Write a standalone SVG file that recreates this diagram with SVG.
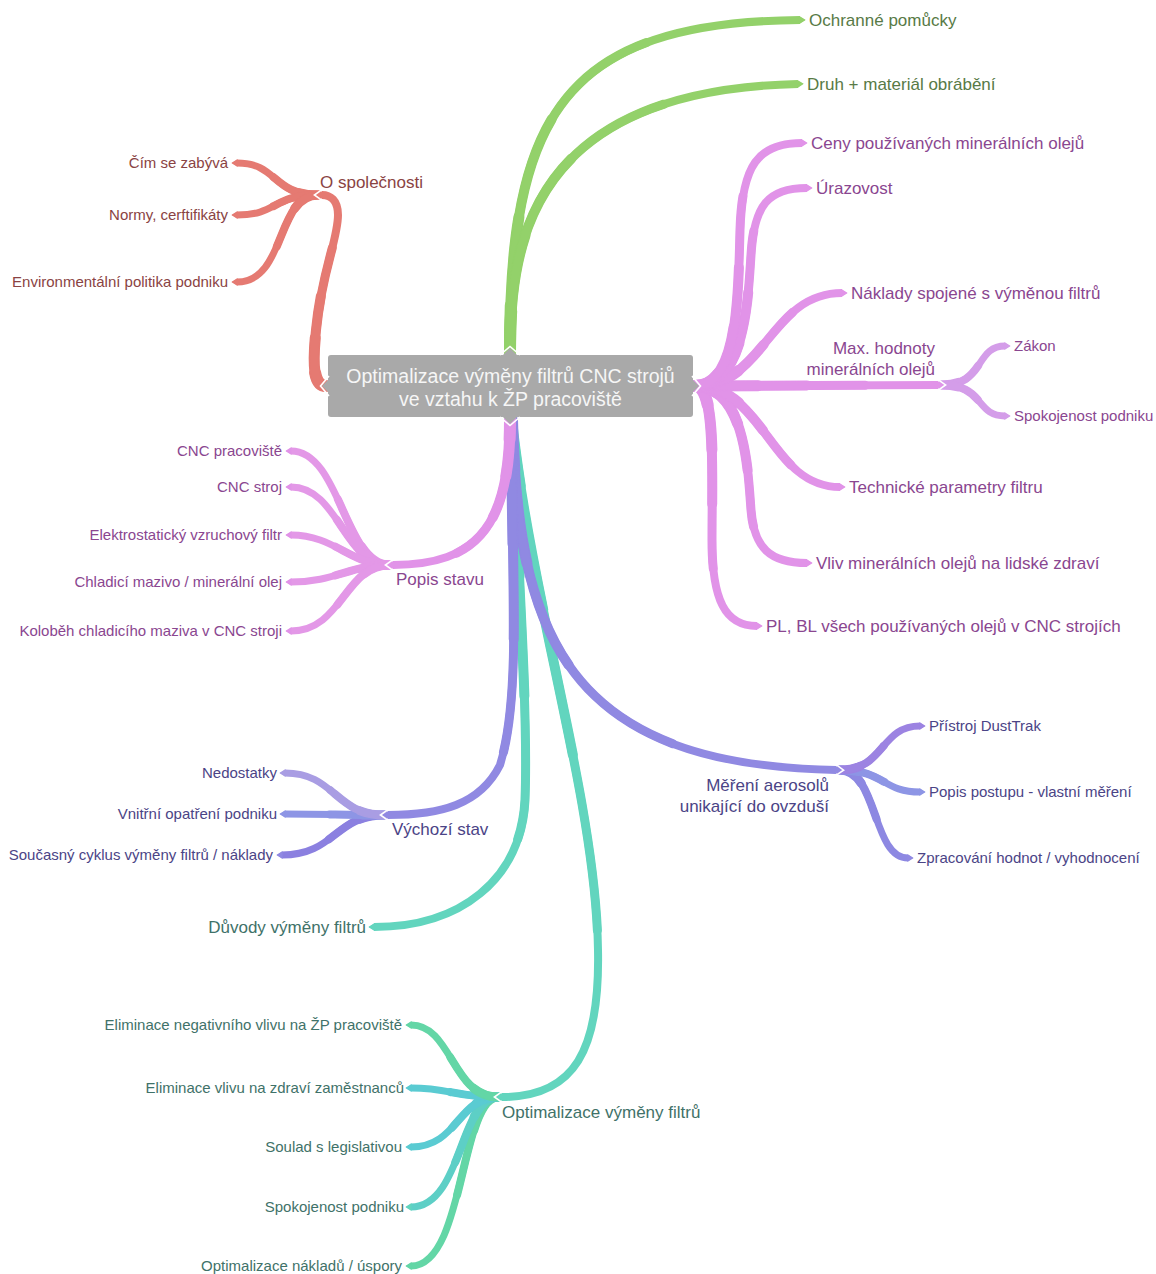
<svg xmlns="http://www.w3.org/2000/svg" xmlns:xlink="http://www.w3.org/1999/xlink" width="1156" height="1274" viewBox="0 0 1156 1274">
<style>
  text { font-family: "Liberation Sans", Arial, sans-serif; }
  .big { font-size: 17px; }
  .sm { font-size: 15px; }
  .ctr { font-size: 19.5px; fill: #f6f6f6; text-anchor: middle; }
  .end { text-anchor: end; }
  .c-red { fill: #8a4343; }
  .c-grn { fill: #587a46; }
  .c-pnk { fill: #8a4690; }
  .c-lav { fill: #4b4486; }
  .c-tea { fill: #3f7269; }
  /* tapered branches: a thin full-length stroke plus shorter, wider round-capped layers */
  .L1 { fill: none; stroke-width: 8; }
  .L2 { fill: none; stroke-width: 9; stroke-dasharray: 70 200; stroke-linecap: round; }
  .L3 { fill: none; stroke-width: 10; stroke-dasharray: 46 200; stroke-linecap: round; }
  .L4 { fill: none; stroke-width: 11; stroke-dasharray: 26 200; stroke-linecap: round; }
  .L5 { fill: none; stroke-width: 12; stroke-dasharray: 9 200; stroke-linecap: round; }
  .S1 { fill: none; stroke-width: 7; }
  .S2 { fill: none; stroke-width: 8; stroke-dasharray: 55 200; stroke-linecap: round; }
  .S3 { fill: none; stroke-width: 9; stroke-dasharray: 22 200; stroke-linecap: round; }
  .notch { fill: none; stroke: #ffffff; stroke-width: 1.6; }
</style>
<defs>
  <!-- arrow-like branch tips, one per branch colour -->
  <marker id="m-red" markerUnits="userSpaceOnUse" orient="auto" markerWidth="20" markerHeight="20" style="overflow:visible"><path d="M-0.5,-4 L6,0 L-0.5,4 Z" fill="#e57a72"/><path class="notch" d="M0,-5.4 L7.6,0 L0,5.4"/></marker>
  <marker id="m-grn" markerUnits="userSpaceOnUse" orient="auto" markerWidth="20" markerHeight="20" style="overflow:visible"><path d="M-0.5,-4 L6,0 L-0.5,4 Z" fill="#93d16a"/><path class="notch" d="M0,-5.4 L7.6,0 L0,5.4"/></marker>
  <marker id="m-pnk" markerUnits="userSpaceOnUse" orient="auto" markerWidth="20" markerHeight="20" style="overflow:visible"><path d="M-0.5,-4 L6,0 L-0.5,4 Z" fill="#e193e8"/><path class="notch" d="M0,-5.4 L7.6,0 L0,5.4"/></marker>
  <marker id="m-lil" markerUnits="userSpaceOnUse" orient="auto" markerWidth="20" markerHeight="20" style="overflow:visible"><path d="M-0.5,-4 L6,0 L-0.5,4 Z" fill="#d49de9"/><path class="notch" d="M0,-5.4 L7.6,0 L0,5.4"/></marker>
  <marker id="m-lav" markerUnits="userSpaceOnUse" orient="auto" markerWidth="20" markerHeight="20" style="overflow:visible"><path d="M-0.5,-4 L6,0 L-0.5,4 Z" fill="#9089e2"/><path class="notch" d="M0,-5.4 L7.6,0 L0,5.4"/></marker>
  <marker id="m-lav1" markerUnits="userSpaceOnUse" orient="auto" markerWidth="20" markerHeight="20" style="overflow:visible"><path d="M-0.5,-4 L6,0 L-0.5,4 Z" fill="#a99de3"/><path class="notch" d="M0,-5.4 L7.6,0 L0,5.4"/></marker>
  <marker id="m-lav2" markerUnits="userSpaceOnUse" orient="auto" markerWidth="20" markerHeight="20" style="overflow:visible"><path d="M-0.5,-4 L6,0 L-0.5,4 Z" fill="#8d95e5"/><path class="notch" d="M0,-5.4 L7.6,0 L0,5.4"/></marker>
  <marker id="m-lav3" markerUnits="userSpaceOnUse" orient="auto" markerWidth="20" markerHeight="20" style="overflow:visible"><path d="M-0.5,-4 L6,0 L-0.5,4 Z" fill="#9c83e2"/><path class="notch" d="M0,-5.4 L7.6,0 L0,5.4"/></marker>
  <marker id="m-tea" markerUnits="userSpaceOnUse" orient="auto" markerWidth="20" markerHeight="20" style="overflow:visible"><path d="M-0.5,-4 L6,0 L-0.5,4 Z" fill="#62d5be"/><path class="notch" d="M0,-5.4 L7.6,0 L0,5.4"/></marker>
  <marker id="m-mint" markerUnits="userSpaceOnUse" orient="auto" markerWidth="20" markerHeight="20" style="overflow:visible"><path d="M-0.5,-4 L6,0 L-0.5,4 Z" fill="#63d6a6"/><path class="notch" d="M0,-5.4 L7.6,0 L0,5.4"/></marker>
  <marker id="m-cyan" markerUnits="userSpaceOnUse" orient="auto" markerWidth="20" markerHeight="20" style="overflow:visible"><path d="M-0.5,-4 L6,0 L-0.5,4 Z" fill="#5acbd2"/><path class="notch" d="M0,-5.4 L7.6,0 L0,5.4"/></marker>

  <!-- branch geometry (pathLength normalised for the taper dashes) -->
  <path id="g1" pathLength="100" d="M510,352 C510,120 560,22 800,20"/>
  <path id="g2" pathLength="100" d="M510,352 C510,250 525,90 798,84"/>
  <path id="r0" pathLength="100" d="M326,386 C312,386 313,360 316,330 C322,270 338,240 338,215 C338,200 330,195 322,195"/>
  <path id="r1" pathLength="100" d="M318,195 C272,195 278,163 237,163"/>
  <path id="r2" pathLength="100" d="M318,195 C272,195 278,215 237,215"/>
  <path id="r3" pathLength="100" d="M318,195 C276,195 286,282 237,282"/>
  <path id="p1" pathLength="100" d="M695,386 C738,386 738,300 740,230 C742,165 758,143 802,143"/>
  <path id="p2" pathLength="100" d="M695,386 C745,386 748,300 751,255 C754,205 768,188 807,188"/>
  <path id="p3" pathLength="100" d="M695,386 C765,386 770,293 842,293"/>
  <path id="p4" pathLength="100" d="M695,386 L938,385"/>
  <path id="p5" pathLength="100" d="M695,386 C765,386 770,487 840,487"/>
  <path id="p6" pathLength="100" d="M695,386 C745,386 748,470 751,510 C754,548 770,563 807,563"/>
  <path id="p7" pathLength="100" d="M695,386 C716,386 712,470 712,540 C712,600 725,626 757,626"/>
  <path id="m1" pathLength="100" d="M942,385 C985,385 975,346 1005,346"/>
  <path id="m2" pathLength="100" d="M942,385 C985,385 975,416 1005,416"/>
  <path id="ps0" pathLength="100" d="M510,420 C510,525 478,565 393,565"/>
  <path id="s1" pathLength="100" d="M389,565 C345,565 340,451 291,451"/>
  <path id="s2" pathLength="100" d="M389,565 C345,565 338,487 291,487"/>
  <path id="s3" pathLength="100" d="M389,565 C350,565 335,535 291,535"/>
  <path id="s4" pathLength="100" d="M389,565 C350,565 335,582 291,582"/>
  <path id="s5" pathLength="100" d="M389,565 C345,565 342,631 291,631"/>
  <path id="me0" pathLength="100" d="M512,420 C518,640 570,765 836,770"/>
  <path id="e1" pathLength="100" d="M840,770 C885,770 880,726 920,726"/>
  <path id="e2" pathLength="100" d="M840,770 C885,770 882,792 920,792"/>
  <path id="e3" pathLength="100" d="M840,770 C878,770 872,858 908,858"/>
  <path id="vy0" pathLength="100" d="M511,420 C513,600 520,700 500,765 C480,805 440,815 388,815"/>
  <path id="v1" pathLength="100" d="M384,815 C335,815 335,773 285,773"/>
  <path id="v2" pathLength="100" d="M384,815 C340,815 330,814 285,814"/>
  <path id="v3" pathLength="100" d="M384,815 C335,815 335,855 282,855"/>
  <path id="du0" pathLength="100" d="M511,420 C520,600 528,720 525,800 C521,880 460,927 374,927"/>
  <path id="op0" pathLength="100" d="M511,420 C530,600 596,800 598,950 C600,1050 575,1097 502,1097"/>
  <path id="o1" pathLength="100" d="M498,1097 C452,1097 452,1025 411,1025"/>
  <path id="o2" pathLength="100" d="M498,1097 C455,1097 450,1088 411,1088"/>
  <path id="o3" pathLength="100" d="M498,1097 C458,1097 458,1147 411,1147"/>
  <path id="o4" pathLength="100" d="M498,1097 C460,1097 462,1207 411,1207"/>
  <path id="o5" pathLength="100" d="M498,1097 C460,1097 465,1266 411,1266"/>
</defs>

<rect width="1156" height="1274" fill="#ffffff"/>

<g id="connectors">
  <!-- second-level branches -->
  <g stroke="#e57a72">
    <use href="#r1" class="S3"/><use href="#r1" class="S2"/><use href="#r1" class="S1" marker-end="url(#m-red)"/>
    <use href="#r2" class="S3"/><use href="#r2" class="S2"/><use href="#r2" class="S1" marker-end="url(#m-red)"/>
    <use href="#r3" class="S3"/><use href="#r3" class="S2"/><use href="#r3" class="S1" marker-end="url(#m-red)"/>
  </g>
  <g stroke="#d49de9">
    <use href="#m1" class="S3"/><use href="#m1" class="S2"/><use href="#m1" class="S1" marker-end="url(#m-lil)"/>
    <use href="#m2" class="S3"/><use href="#m2" class="S2"/><use href="#m2" class="S1" marker-end="url(#m-lil)"/>
  </g>
  <g stroke="#e398e7">
    <use href="#s1" class="S3"/><use href="#s1" class="S2"/><use href="#s1" class="S1" marker-end="url(#m-pnk)"/>
    <use href="#s2" class="S3"/><use href="#s2" class="S2"/><use href="#s2" class="S1" marker-end="url(#m-pnk)"/>
    <use href="#s3" class="S3"/><use href="#s3" class="S2"/><use href="#s3" class="S1" marker-end="url(#m-pnk)"/>
    <use href="#s4" class="S3"/><use href="#s4" class="S2"/><use href="#s4" class="S1" marker-end="url(#m-pnk)"/>
    <use href="#s5" class="S3"/><use href="#s5" class="S2"/><use href="#s5" class="S1" marker-end="url(#m-pnk)"/>
  </g>
  <g stroke="#8d88e2">
    <use href="#e3" class="S3"/><use href="#e3" class="S2"/><use href="#e3" class="S1" marker-end="url(#m-lav)"/>
  </g>
  <g stroke="#8d95e5">
    <use href="#e2" class="S3"/><use href="#e2" class="S2"/><use href="#e2" class="S1" marker-end="url(#m-lav2)"/>
  </g>
  <g stroke="#9c83e2">
    <use href="#e1" class="S3"/><use href="#e1" class="S2"/><use href="#e1" class="S1" marker-end="url(#m-lav3)"/>
  </g>
  <g stroke="#8b80e0">
    <use href="#v3" class="S3"/><use href="#v3" class="S2"/><use href="#v3" class="S1" marker-end="url(#m-lav)"/>
  </g>
  <g stroke="#8d95e5">
    <use href="#v2" class="S3"/><use href="#v2" class="S2"/><use href="#v2" class="S1" marker-end="url(#m-lav2)"/>
  </g>
  <g stroke="#a99de3">
    <use href="#v1" class="S3"/><use href="#v1" class="S2"/><use href="#v1" class="S1" marker-end="url(#m-lav1)"/>
  </g>
  <g stroke="#63d6a6">
    <use href="#o5" class="S3"/><use href="#o5" class="S2"/><use href="#o5" class="S1" marker-end="url(#m-mint)"/>
  </g>
  <g stroke="#5dcfc6">
    <use href="#o4" class="S3"/><use href="#o4" class="S2"/><use href="#o4" class="S1" marker-end="url(#m-tea)"/>
  </g>
  <g stroke="#5acbd2">
    <use href="#o3" class="S3"/><use href="#o3" class="S2"/><use href="#o3" class="S1" marker-end="url(#m-cyan)"/>
    <use href="#o2" class="S3"/><use href="#o2" class="S2"/><use href="#o2" class="S1" marker-end="url(#m-cyan)"/>
  </g>
  <g stroke="#63d6a6">
    <use href="#o1" class="S3"/><use href="#o1" class="S2"/><use href="#o1" class="S1" marker-end="url(#m-mint)"/>
  </g>

  <!-- first-level branches -->
  <g stroke="#62d5be">
    <use href="#op0" class="L5"/><use href="#op0" class="L4"/><use href="#op0" class="L3"/><use href="#op0" class="L2"/><use href="#op0" class="L1" marker-end="url(#m-tea)"/>
    <use href="#du0" class="L5"/><use href="#du0" class="L4"/><use href="#du0" class="L3"/><use href="#du0" class="L2"/><use href="#du0" class="L1" marker-end="url(#m-tea)"/>
  </g>
  <g stroke="#9089e2">
    <use href="#me0" class="L5"/><use href="#me0" class="L4"/><use href="#me0" class="L3"/><use href="#me0" class="L2"/><use href="#me0" class="L1" marker-end="url(#m-lav)"/>
    <use href="#vy0" class="L5"/><use href="#vy0" class="L4"/><use href="#vy0" class="L3"/><use href="#vy0" class="L2"/><use href="#vy0" class="L1" marker-end="url(#m-lav)"/>
  </g>
  <g stroke="#e193e8">
    <use href="#ps0" class="L5"/><use href="#ps0" class="L4"/><use href="#ps0" class="L3"/><use href="#ps0" class="L2"/><use href="#ps0" class="L1" marker-end="url(#m-pnk)"/>
    <use href="#p7" class="L5"/><use href="#p7" class="L4"/><use href="#p7" class="L3"/><use href="#p7" class="L2"/><use href="#p7" class="L1" marker-end="url(#m-pnk)"/>
    <use href="#p6" class="L5"/><use href="#p6" class="L4"/><use href="#p6" class="L3"/><use href="#p6" class="L2"/><use href="#p6" class="L1" marker-end="url(#m-pnk)"/>
    <use href="#p5" class="L5"/><use href="#p5" class="L4"/><use href="#p5" class="L3"/><use href="#p5" class="L2"/><use href="#p5" class="L1" marker-end="url(#m-pnk)"/>
    <use href="#p4" class="L5"/><use href="#p4" class="L4"/><use href="#p4" class="L3"/><use href="#p4" class="L2"/><use href="#p4" class="L1" marker-end="url(#m-pnk)"/>
    <use href="#p3" class="L5"/><use href="#p3" class="L4"/><use href="#p3" class="L3"/><use href="#p3" class="L2"/><use href="#p3" class="L1" marker-end="url(#m-pnk)"/>
    <use href="#p2" class="L5"/><use href="#p2" class="L4"/><use href="#p2" class="L3"/><use href="#p2" class="L2"/><use href="#p2" class="L1" marker-end="url(#m-pnk)"/>
    <use href="#p1" class="L5"/><use href="#p1" class="L4"/><use href="#p1" class="L3"/><use href="#p1" class="L2"/><use href="#p1" class="L1" marker-end="url(#m-pnk)"/>
  </g>
  <g stroke="#e57a72">
    <use href="#r0" class="L5"/><use href="#r0" class="L4"/><use href="#r0" class="L3"/><use href="#r0" class="L2"/><use href="#r0" class="L1" marker-end="url(#m-red)"/>
  </g>
  <g stroke="#93d16a">
    <use href="#g1" class="L5"/><use href="#g1" class="L4"/><use href="#g1" class="L3"/><use href="#g1" class="L2"/><use href="#g1" class="L1" marker-end="url(#m-grn)"/>
    <use href="#g2" class="L5"/><use href="#g2" class="L4"/><use href="#g2" class="L3"/><use href="#g2" class="L2"/><use href="#g2" class="L1" marker-end="url(#m-grn)"/>
  </g>
</g>

<!-- central topic -->
<g id="n-center">
  <rect x="328" y="355" width="365" height="62" rx="3" fill="#a9a9a9"/>
  <path d="M502,356 L510,348 L518,356 Z M502,416 L510,424 L518,416 Z M330,378 L322,386 L330,394 Z M691,378 L699,386 L691,394 Z" fill="#a9a9a9"/>
  <path class="notch" d="M500,355 L510,346.5 L520,355 M500,417 L510,425.5 L520,417 M329,376 L320.5,386 L329,396 M692,376 L700.5,386 L692,396"/>
  <text class="ctr" x="510.5" y="383">Optimalizace výměny filtrů CNC strojů</text>
  <text class="ctr" x="510.5" y="406">ve vztahu k ŽP pracoviště</text>
</g>

<!-- green -->
<g id="n-ochranne"><text class="big c-grn" x="809" y="26">Ochranné pomůcky</text></g>
<g id="n-druh"><text class="big c-grn" x="807" y="90">Druh + materiál obrábění</text></g>

<!-- red -->
<g id="n-spolecnost"><text class="big c-red" x="320" y="188">O společnosti</text></g>
<g id="n-cim"><text class="sm c-red end" x="228" y="168">Čím se zabývá</text></g>
<g id="n-normy"><text class="sm c-red end" x="228" y="220">Normy, cerftifikáty</text></g>
<g id="n-env"><text class="sm c-red end" x="228" y="287">Environmentální politika podniku</text></g>

<!-- pink, right -->
<g id="n-ceny"><text class="big c-pnk" x="811" y="149">Ceny používaných minerálních olejů</text></g>
<g id="n-urazovost"><text class="big c-pnk" x="816" y="194">Úrazovost</text></g>
<g id="n-naklady"><text class="big c-pnk" x="851" y="299">Náklady spojené s výměnou filtrů</text></g>
<g id="n-max">
  <text class="big c-pnk end" x="935" y="354">Max. hodnoty</text>
  <text class="big c-pnk end" x="935" y="375">minerálních olejů</text>
</g>
<g id="n-zakon"><text class="sm c-pnk" x="1014" y="351">Zákon</text></g>
<g id="n-spokojenost1"><text class="sm c-pnk" x="1014" y="421">Spokojenost podniku</text></g>
<g id="n-technicke"><text class="big c-pnk" x="849" y="493">Technické parametry filtru</text></g>
<g id="n-vliv"><text class="big c-pnk" x="816" y="569">Vliv minerálních olejů na lidské zdraví</text></g>
<g id="n-plbl"><text class="big c-pnk" x="766" y="632">PL, BL všech používaných olejů v CNC strojích</text></g>

<!-- pink, left -->
<g id="n-popis"><text class="big c-pnk" x="396" y="585">Popis stavu</text></g>
<g id="n-cncprac"><text class="sm c-pnk end" x="282" y="456">CNC pracoviště</text></g>
<g id="n-cncstroj"><text class="sm c-pnk end" x="282" y="492">CNC stroj</text></g>
<g id="n-elektro"><text class="sm c-pnk end" x="282" y="540">Elektrostatický vzruchový filtr</text></g>
<g id="n-chladici"><text class="sm c-pnk end" x="282" y="587">Chladicí mazivo / minerální olej</text></g>
<g id="n-kolobeh"><text class="sm c-pnk end" x="282" y="636">Koloběh chladicího maziva v CNC stroji</text></g>

<!-- lavender -->
<g id="n-mereni">
  <text class="big c-lav end" x="829" y="791">Měření aerosolů</text>
  <text class="big c-lav end" x="829" y="812">unikající do ovzduší</text>
</g>
<g id="n-dusttrak"><text class="sm c-lav" x="929" y="731">Přístroj DustTrak</text></g>
<g id="n-postup"><text class="sm c-lav" x="929" y="797">Popis postupu - vlastní měření</text></g>
<g id="n-zpracovani"><text class="sm c-lav" x="917" y="863">Zpracování hodnot / vyhodnocení</text></g>
<g id="n-vychozi"><text class="big c-lav" x="392" y="835">Výchozí stav</text></g>
<g id="n-nedostatky"><text class="sm c-lav end" x="277" y="778">Nedostatky</text></g>
<g id="n-vnitrni"><text class="sm c-lav end" x="277" y="819">Vnitřní opatření podniku</text></g>
<g id="n-soucasny"><text class="sm c-lav end" x="273" y="860">Současný cyklus výměny filtrů / náklady</text></g>

<!-- teal -->
<g id="n-duvody"><text class="big c-tea end" x="366" y="933">Důvody výměny filtrů</text></g>
<g id="n-optim"><text class="big c-tea" x="502" y="1118">Optimalizace výměny filtrů</text></g>
<g id="n-elimzp"><text class="sm c-tea end" x="402" y="1030">Eliminace negativního vlivu na ŽP pracoviště</text></g>
<g id="n-elimzdravi"><text class="sm c-tea end" x="404" y="1093">Eliminace vlivu na zdraví zaměstnanců</text></g>
<g id="n-soulad"><text class="sm c-tea end" x="402" y="1152">Soulad s legislativou</text></g>
<g id="n-spokojenost2"><text class="sm c-tea end" x="404" y="1212">Spokojenost podniku</text></g>
<g id="n-naklady2"><text class="sm c-tea end" x="402" y="1271">Optimalizace nákladů / úspory</text></g>
</svg>
